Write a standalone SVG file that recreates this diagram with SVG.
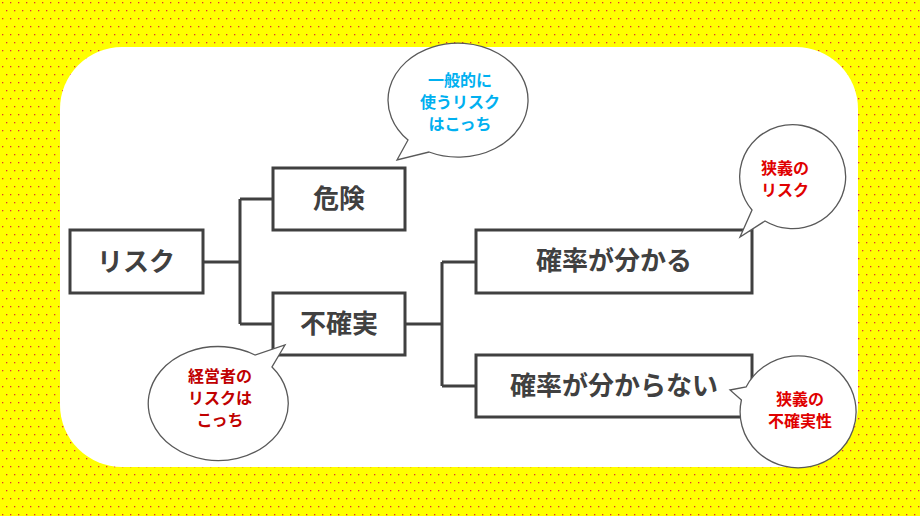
<svg xmlns="http://www.w3.org/2000/svg" width="920" height="516" viewBox="0 0 920 516">
<defs>
<pattern id="dots" width="8" height="16" patternUnits="userSpaceOnUse">
<rect width="8" height="16" fill="#ffff00"/>
<rect x="2" y="2" width="1.3" height="1.3" fill="#e03030"/>
<rect x="6" y="10" width="1.3" height="1.3" fill="#e03030"/>
</pattern>
<style>
.box{fill:#fff;stroke:#404040;stroke-width:3}
.bt{font-family:"Noto Sans CJK JP",sans-serif;font-weight:bold;font-size:26px;fill:#404040;text-anchor:middle}
.bub{fill:#fff;stroke:#595959;stroke-width:1.3}
.st{font-family:"Noto Sans CJK JP",sans-serif;font-weight:bold;font-size:16px;text-anchor:middle}
.blue{fill:#00b0f0}.red{fill:#e00000}.dred{fill:#c00000}
.ln{fill:none;stroke:#404040;stroke-width:3}
</style>
</defs>
<rect width="920" height="516" fill="url(#dots)"/>
<rect x="60" y="47" width="798" height="420" rx="62" fill="#fff"/>
<g id="connectors">
<path class="ln" d="M203 262H240M240 199V324M240 199H273M240 324H273"/>
<path class="ln" d="M405 324H442M442 262V386M442 262H476M442 386H476"/>
</g>
<g id="n-risk"><rect class="box" x="70" y="230" width="133" height="63"/><text class="bt" x="136" y="271">リスク</text></g>
<g id="n-kiken"><rect class="box" x="273" y="168" width="132" height="62"/><text class="bt" x="339" y="208">危険</text></g>
<g id="n-fukakujitsu"><rect class="box" x="273" y="293" width="132" height="62"/><text class="bt" x="339" y="333">不確実</text></g>
<g id="n-wakaru"><rect class="box" x="476" y="230" width="276" height="63"/><text class="bt" x="614" y="270">確率が分かる</text></g>
<g id="n-wakaranai"><rect class="box" x="476" y="355" width="276" height="62"/><text class="bt" x="614" y="395">確率が分からない</text></g>
<g id="b1"><path class="bub" d="M408 140 A70 57 0 1 1 429 152 L397 160 Z"/>
<text class="st blue" x="460" y="86">一般的に</text><text class="st blue" x="460" y="108">使うリスク</text><text class="st blue" x="460" y="130">はこっち</text></g>
<g id="b2"><path class="bub" d="M752 210 A53 52 0 1 1 765 221 L740 237 Z"/>
<text class="st red" x="785" y="174">狭義の</text><text class="st red" x="785" y="196">リスク</text></g>
<g id="b3"><path class="bub" d="M272 367 A70 57 0 1 1 255 355 L285 345 Z"/>
<text class="st dred" x="220" y="382">経営者の</text><text class="st dred" x="220" y="404">リスクは</text><text class="st dred" x="220" y="426">こっち</text></g>
<g id="b4"><path class="bub" d="M741.4 400 A58 56 0 1 0 746.1 387 L730 390 Z"/>
<text class="st red" x="800" y="405">狭義の</text><text class="st red" x="800" y="427">不確実性</text></g>
</svg>
